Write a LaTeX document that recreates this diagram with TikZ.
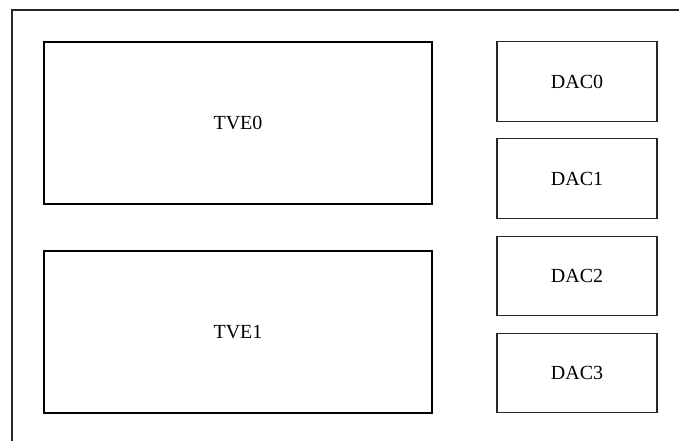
\documentclass[tikz,border=0pt]{standalone}
\usepackage{fontspec}
\setmainfont{Liberation Serif}
\usepackage{tikz}
\usetikzlibrary{positioning}
\tikzset{
  tvebox/.style={rectangle,draw=black,line width=1.5pt,inner sep=0pt,minimum width=291pt,minimum height=121.5pt,font=\fontsize{15}{18}\selectfont},
  dacbox/.style={rectangle,draw=black!85,line width=0.9pt,inner sep=0pt,minimum width=120pt,minimum height=59.5pt,font=\fontsize{15}{18}\selectfont},
  frame/.style={draw=black!85,line width=1pt}
}
\begin{document}
\begin{tikzpicture}[x=0.75pt,y=-0.75pt]
  \useasboundingbox (0,0) rectangle (679,441);

  % outer frame (only top and left edges show)
  \draw[frame] (12,441) -- (12,10) -- (679,10);

  % TV encoders
  \node[tvebox] (tve0) at (238,123) {TVE0};
  \node[tvebox] (tve1) at (238,332) {TVE1};

  % DACs
  \node[dacbox] (dac0) at (577,81.5)  {DAC0};
  \node[dacbox] (dac1) at (577,178.5) {DAC1};
  \node[dacbox] (dac2) at (577,276)   {DAC2};
  \node[dacbox] (dac3) at (577,373)   {DAC3};
\end{tikzpicture}
\end{document}
